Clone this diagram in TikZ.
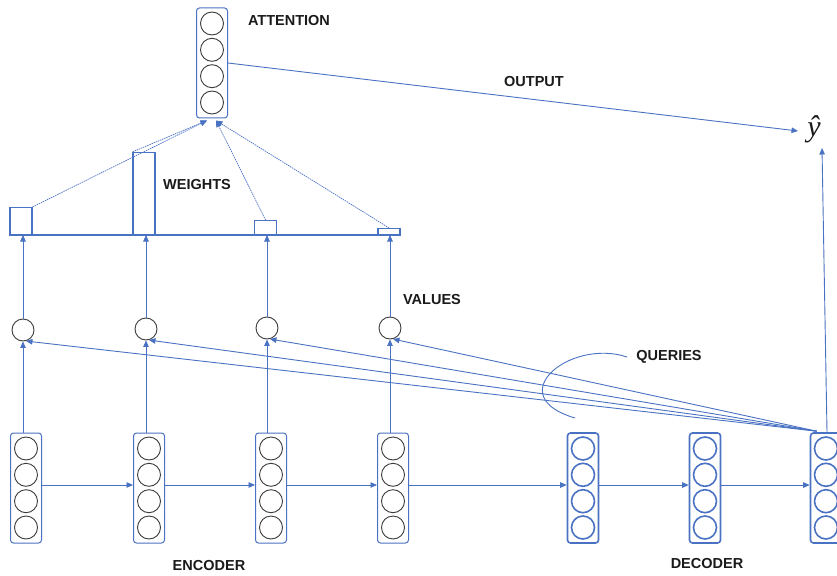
\documentclass[tikz,border=0pt]{standalone}
\usepackage{fontspec}
\setmainfont{Liberation Sans}
\newfontfamily\outfont{Liberation Serif}
\usetikzlibrary{arrows.meta}
\definecolor{lineblue}{HTML}{4A72C2}
\definecolor{cellgray}{HTML}{3C3C3C}
\definecolor{labelink}{HTML}{1A1A1A}

% a rounded box holding four cells, named #1, centred at (#2,#3)
\newcommand{\cellstack}[4]{%
  \node[stack,#4] (#1) at (#2,#3) {};
  \foreach \k/\dy in {1/-39.5,2/-13.2,3/13.2,4/39.5}
    \node[cell,#4] (#1-\k) at (#2,{#3+(\dy)}) {};
}

\begin{document}
\begin{tikzpicture}[x=1pt,y=-1pt,
  stack/.style={draw=lineblue, rounded corners=3pt, minimum width=31pt,
    minimum height=110pt, inner sep=0pt, line width=1pt},
  cell/.style={circle, draw=cellgray, minimum size=23pt, inner sep=0pt, line width=0.9pt},
  dec/.style={draw=lineblue, line width=1.6pt},
  value/.style={circle, draw=cellgray, minimum size=22pt, inner sep=0pt, line width=0.9pt},
  bar/.style={draw=lineblue, line width=1.1pt, minimum width=22pt, inner sep=0pt, anchor=south},
  link/.style={draw=lineblue, line width=0.9pt, -{Triangle[length=6.5pt,width=5.5pt]}},
  weightlink/.style={draw=lineblue, line width=0.7pt, dash pattern=on 1.5pt off 0.8pt,
    -{Triangle[length=6.5pt,width=5.5pt]}},
  tag/.style={font=\fontsize{14.5}{16}\selectfont\bfseries, text=labelink, inner sep=0pt},
]
\useasboundingbox (0,0) rectangle (837,575);

% attention vector
\cellstack{att}{212}{63}{}

% encoder and decoder states
\cellstack{e1}{26}{488}{}
\cellstack{e2}{149}{488}{}
\cellstack{e3}{271}{488}{}
\cellstack{e4}{393}{488}{}
\cellstack{d1}{583}{488}{dec}
\cellstack{d2}{705}{488}{dec}
\cellstack{d3}{826}{488}{dec}

% value scores
\node[value] (v1) at (23,330) {};
\node[value] (v2) at (146,329) {};
\node[value] (v3) at (267,328) {};
\node[value] (v4) at (390,328) {};

% weight bars on a common baseline
\node[bar, minimum height=27pt] (b1) at (21,235) {};
\node[bar, minimum height=82pt] (b2) at (144,235) {};
\node[bar, minimum height=14pt] (b3) at (265.5,235) {};
\node[bar, minimum height=6pt] (b4) at (389,235) {};
\draw[lineblue, line width=1.4pt] (b1.south west) -- (b4.south east);

% output
\node[inner sep=0pt, font=\outfont\itshape\fontsize{30}{32}\selectfont, text=labelink] (yhat) at (814,129) {ŷ};

% labels
\node[tag] (lattention) at (289,21) {ATTENTION};
\node[tag] (loutput) at (534,82) {OUTPUT};
\node[tag] (lweights) at (197,185) {WEIGHTS};
\node[tag] (lvalues) at (432,300) {VALUES};
\node[tag] (lqueries) at (669,357) {QUERIES};
\node[tag] (lencoder) at (209,566) {ENCODER};
\node[tag] (ldecoder) at (707,564) {DECODER};

% recurrent chain
\foreach \a/\b in {e1/e2,e2/e3,e3/e4,e4/d1,d1/d2,d2/d3}
  \draw[link] ([yshift=3pt]\a.east) -- ([yshift=3pt]\b.west);

% encoder states to value scores, value scores to weights
\foreach \k in {1,2,3,4} {
  \draw[link] (v\k |- e\k.north) -- (v\k.south);
  \draw[link] (v\k.north) -- (v\k |- b\k.south);
}

% queries from the current decoder state
\coordinate (q) at ([xshift=7pt,yshift=1pt]d3.north west);
\foreach \k in {1,2,3,4}
  \draw[link] (q) -- (v\k.-75);

% the bracket marking the queries
\draw[lineblue, line width=0.9pt] (627,357) .. controls (570,338) and (500,396) .. (575,418);

% weighted sum into the attention vector
\coordinate (attl) at ([xshift=-5pt,yshift=-2pt]att.south);
\coordinate (attr) at ([xshift=4pt,yshift=-2pt]att.south);
\draw[weightlink] (b1.north east) -- (attl);
\draw[weightlink] (b2.north west) -- (attl);
\draw[weightlink] (b3.north) -- (attr);
\draw[weightlink] (b4.north) -- (attr);

% attention and decoder state to the prediction
\coordinate (yin) at ([xshift=-16pt,yshift=-2pt]yhat.center);
\coordinate (yup) at ([xshift=8pt,yshift=-19pt]yhat.center);
\draw[link] (att.east) -- (yin);
\draw[link] ([xshift=1pt]d3.north) -- (yup);
\end{tikzpicture}
\end{document}
